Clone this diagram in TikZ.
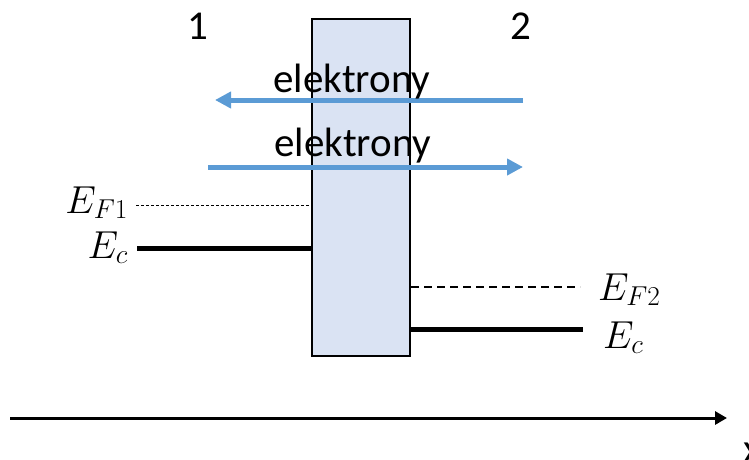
\RequirePackage{fix-cm}
\documentclass[tikz,border=0pt]{standalone}
\usepackage{fontspec}
\setmainfont{Carlito}
\usetikzlibrary{arrows.meta}
\definecolor{barrierfill}{HTML}{DAE3F3}
\definecolor{eblue}{HTML}{5B9BD5}
\tikzset{
  barrier/.style={draw=black, line width=2pt, fill=barrierfill},
  band/.style={line width=5pt},
  fermithin/.style={line width=1pt, dash pattern=on 3pt off 2pt},
  fermithick/.style={line width=1.5pt, dash pattern=on 8pt off 5pt},
  flow/.style={draw=eblue, line width=5pt, -{Triangle[length=16pt,width=16pt]}},
  axis/.style={line width=3pt, -{Triangle[length=12pt,width=13pt]}},
  sidelabel/.style={inner sep=0pt, font=\fontsize{41}{48}\selectfont},
  mathlabel/.style={inner sep=0pt, font=\fontsize{39}{46}\selectfont},
}
\begin{document}
\begin{tikzpicture}[x=1pt,y=-1pt]
\useasboundingbox (0,0) rectangle (749,459);
% barrier
\node[barrier, minimum width=98pt, minimum height=337pt, anchor=north west] (bar) at (311,18) {};
% region labels
\node[sidelabel, anchor=base] (one) at (198,39) {1};
\node[sidelabel, anchor=base] (two) at (521,39) {2};
% electron flows
\coordinate (fa1) at (523,100);
\coordinate (fa2) at (215,100);
\draw[flow] (fa1) -- (fa2);
\node[sidelabel, anchor=base] (el1) at (352,92) {elektrony};
\coordinate (fb1) at (208,167);
\coordinate (fb2) at (523,167);
\draw[flow] (fb1) -- (fb2);
\node[sidelabel, anchor=base] (el2) at (353,156) {elektrony};
% left levels
\coordinate (ef1a) at (136,205);
\coordinate (ec1a) at (137,248);
\draw[fermithin] (ef1a) -- (bar.west |- ef1a);
\draw[band] (ec1a) -- (bar.west |- ec1a);
\node[mathlabel, anchor=base east] (lef1) at (128,213) {$E_{F1}$};
\node[mathlabel, anchor=base east] (lec1) at (128,258) {$E_c$};
% right levels
\coordinate (ef2b) at (580,287);
\coordinate (ec2b) at (583,329);
\draw[fermithick] (bar.east |- ef2b) -- (ef2b);
\draw[band] (bar.east |- ec2b) -- (ec2b);
\node[mathlabel, anchor=base west] (ref2) at (598,300) {$E_{F2}$};
\node[mathlabel, anchor=base west] (rec2) at (603,348) {$E_c$};
% x axis
\coordinate (ax1) at (10,418);
\coordinate (ax2) at (727,418);
\draw[axis] (ax1) -- (ax2);
\node[sidelabel, anchor=base west] (xl) at (743,462) {x};
\end{tikzpicture}
\end{document}
